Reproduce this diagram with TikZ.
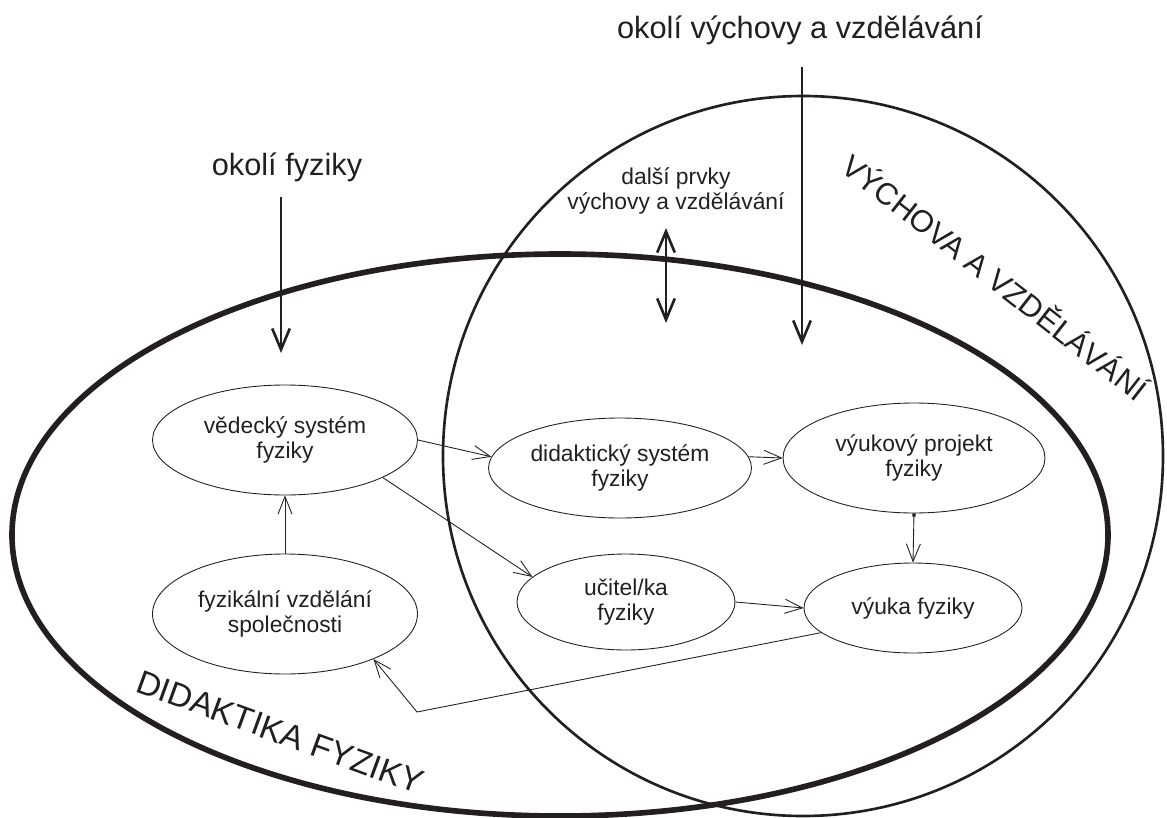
\documentclass[tikz,border=0pt]{standalone}
\usepackage{fontspec}
\setmainfont{Liberation Sans}
\usetikzlibrary{shapes.geometric,arrows.meta}
\definecolor{ink}{HTML}{231F20}
\tikzset{
  blob/.style={ellipse,draw=ink,line width=0.5pt,inner sep=0pt,align=center,text=ink,font=\fontsize{13}{14.2}\selectfont},
  conn/.style={draw=ink,line width=0.5pt,-{Straight Barb[length=10pt,width=8pt]}},
  bigarr/.style={draw=ink,line width=1.5pt,-{Straight Barb[length=12pt,width=10pt]}},
  headline/.style={text=ink,font=\fontsize{17.5}{20}\selectfont},
}
\begin{document}
\begin{tikzpicture}[x=0.02cm,y=-0.02cm]
 \useasboundingbox (0,0) rectangle (1167,818);
 % the two fields
 \draw[ink,line width=3.2pt] (560,535) ellipse [x radius=548,y radius=281];
 \draw[ink,line width=1.5pt] (803,456) circle [radius=360];
 \node[headline,font=\fontsize{19}{22}\selectfont,rotate=-20] (dfy) at (280,732) {DIDAKTIKA FYZIKY};
 \node[headline,rotate=-38] (vav) at (996,276) {VÝCHOVA A VZDĚLÁVÁNÍ};
 %
 \node[headline] (okv) at (800,30) {okolí výchovy a vzdělávání};
 \node[headline] (okf) at (287,167) {okolí fyziky};
 \node[text=ink,align=center,font=\fontsize{13}{14.2}\selectfont] (dal) at (676,191) {další prvky\\výchovy a vzdělávání};
 %
 \coordinate (okvtop) at (802,67);
 \coordinate (okvin) at (802,345);
 \coordinate (okftop) at (281,197);
 \coordinate (okfin) at (281,353);
 \coordinate (daltop) at (666,228);
 \coordinate (dalin) at (666,323);
 \draw[bigarr] (okvtop) -- (okvin);
 \draw[bigarr] (okftop) -- (okfin);
 \draw[bigarr,{Straight Barb[length=12pt,width=10pt]}-{Straight Barb[length=12pt,width=10pt]}] (daltop) -- (dalin);
 % inner nodes
 \node[blob,minimum width=5.3cm,minimum height=2.2cm] (ved) at (285,440) {vědecký systém\\fyziky};
 \node[blob,minimum width=5.3cm,minimum height=2.4cm] (fyz) at (285,614) {fyzikální vzdělání\\společnosti};
 \node[blob,minimum width=5.26cm,minimum height=2cm] (did) at (620,468) {didaktický systém\\fyziky};
 \node[blob,minimum width=5.24cm,minimum height=2.2cm] (vyp) at (914,458) {výukový projekt\\fyziky};
 \node[blob,minimum width=4.36cm,minimum height=1.8cm] (vyu) at (913,608) {výuka fyziky};
 \node[blob,minimum width=4.36cm,minimum height=1.92cm] (uci) at (626,602) {učitel/ka\\fyziky};
 \coordinate (bend) at (417,712);
 %
 \draw[conn] (ved.east) -- (did.175);
 \draw[conn] (ved.-21) -- (uci.165);
 \draw[conn] (did.5) -- (vyp.west);
 \draw[conn,{Square[length=1.8pt,width=1.8pt]}-{Straight Barb[length=10pt,width=8pt]}] (vyp.south) -- (vyu.north);
 \draw[conn] (uci.east) -- (vyu.west);
 \draw[conn] (vyu.195) -- (bend) -- (fyz.-27);
 \draw[conn] (fyz.north) -- (ved.south);
\end{tikzpicture}
\end{document}
